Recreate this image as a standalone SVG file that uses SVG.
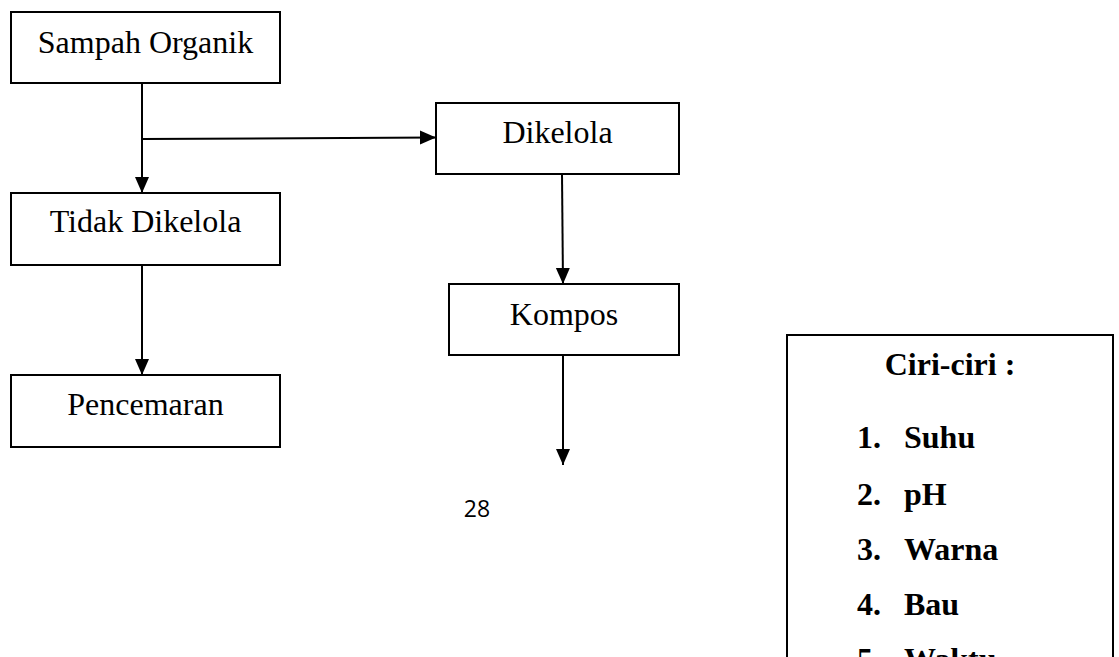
<svg xmlns="http://www.w3.org/2000/svg" width="1119" height="657" viewBox="0 0 1119 657">
<style>
.box{fill:#fff;stroke:#000;stroke-width:2}
.lbl{font-family:"Liberation Serif","Times New Roman",serif;font-size:32px;fill:#000;text-anchor:middle}
.bold{font-family:"Liberation Serif","Times New Roman",serif;font-size:32px;font-weight:bold;fill:#000}
.con{stroke:#000;stroke-width:2;fill:none;marker-end:url(#arr)}
</style>
<defs>
<marker id="arr" markerUnits="userSpaceOnUse" markerWidth="16" markerHeight="16" viewBox="0 0 16 16" refX="16" refY="8" orient="auto">
<path d="M0,1 L16,8 L0,15 Z" fill="#000"/>
</marker>
</defs>
<rect width="1119" height="657" fill="#fff"/>
<g id="connectors">
<line class="con" x1="142" y1="83" x2="142" y2="193"/>
<line class="con" x1="142" y1="139" x2="436" y2="137.5"/>
<line class="con" x1="142" y1="265" x2="142" y2="375"/>
<line class="con" x1="562" y1="174" x2="563" y2="284"/>
<line class="con" x1="563" y1="355" x2="563" y2="465"/>
</g>
<g id="sampah">
<rect class="box" x="11" y="12" width="269" height="71"/>
<text class="lbl" x="145.5" y="53">Sampah Organik</text>
</g>
<g id="tidak">
<rect class="box" x="11" y="193" width="269" height="72"/>
<text class="lbl" x="145.5" y="232">Tidak Dikelola</text>
</g>
<g id="pencemaran">
<rect class="box" x="11" y="375" width="269" height="72"/>
<text class="lbl" x="145.5" y="415">Pencemaran</text>
</g>
<g id="dikelola">
<rect class="box" x="436" y="103" width="243" height="71"/>
<text class="lbl" x="557.5" y="143">Dikelola</text>
</g>
<g id="kompos">
<rect class="box" x="449" y="284" width="230" height="71"/>
<text class="lbl" x="564" y="325">Kompos</text>
</g>
<g id="ciri">
<rect class="box" x="787" y="335" width="326" height="340"/>
<text class="bold" x="950" y="375" text-anchor="middle">Ciri-ciri :</text>
<text class="bold" x="857" y="448">1.</text><text class="bold" x="904" y="448">Suhu</text>
<text class="bold" x="857" y="505">2.</text><text class="bold" x="904" y="505">pH</text>
<text class="bold" x="857" y="560">3.</text><text class="bold" x="904" y="560">Warna</text>
<text class="bold" x="857" y="615">4.</text><text class="bold" x="904" y="615">Bau</text>
<text class="bold" x="857" y="670">5.</text><text class="bold" x="904" y="670">Waktu</text>
</g>
<text x="477" y="517" font-family="'Open Sans','Liberation Sans',sans-serif" font-size="23" text-anchor="middle" fill="#000">28</text>
</svg>
